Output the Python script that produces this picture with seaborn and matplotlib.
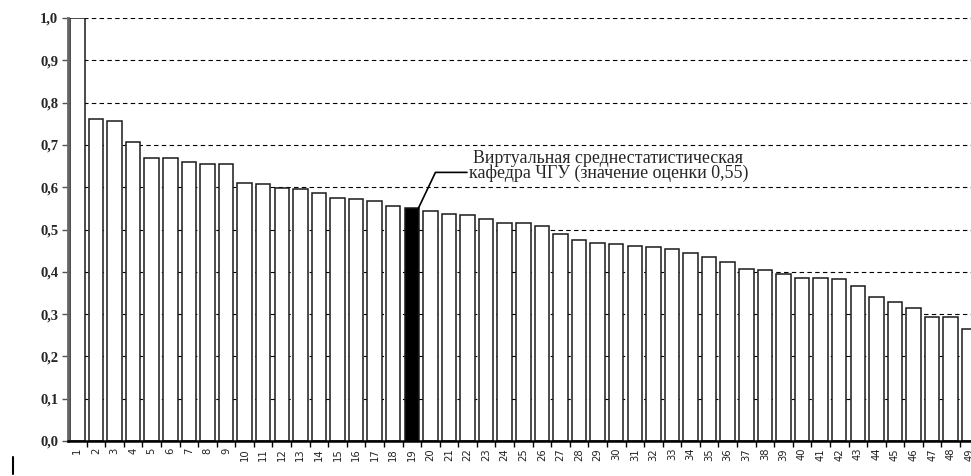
import numpy as np
import pandas as pd
import matplotlib
matplotlib.use("Agg")
import matplotlib.pyplot as plt
from matplotlib.lines import Line2D
import seaborn as sns

# Data
departments = [str(i) for i in range(1, 50)]
scores = [1.000, 0.761, 0.756, 0.708, 0.668, 0.668, 0.660, 0.656, 0.654, 0.610,
          0.608, 0.599, 0.595, 0.587, 0.575, 0.571, 0.567, 0.555, 0.550, 0.543,
          0.537, 0.535, 0.524, 0.515, 0.515, 0.508, 0.489, 0.475, 0.469, 0.466,
          0.461, 0.459, 0.453, 0.445, 0.434, 0.422, 0.407, 0.404, 0.395, 0.386,
          0.386, 0.384, 0.366, 0.340, 0.329, 0.314, 0.293, 0.293, 0.265]
highlight = "19"
yticks = [0.0, 0.1, 0.2, 0.3, 0.4, 0.5, 0.6, 0.7, 0.8, 0.9, 1.0]
ytick_labels = ["0,0", "0,1", "0,2", "0,3", "0,4", "0,5",
                "0,6", "0,7", "0,8", "0,9", "1,0"]
note = "Виртуальная среднестатистическая\nкафедра ЧГУ (значение оценки 0,55)"

df = pd.DataFrame({"dept": departments, "score": scores})
colors = {d: ("black" if d == highlight else "white") for d in departments}

sns.set_theme(style="white")
plt.rcParams["font.family"] = ["Liberation Serif", "DejaVu Serif"]

fig = plt.figure(figsize=(9.71, 4.76), dpi=100)
# axes run past the right edge, like the cropped original
ax = fig.add_axes([0.0701, 0.0735, 0.9377, 0.8887])

sns.barplot(data=df, x="dept", y="score", hue="dept", palette=colors,
            legend=False, width=0.78, saturation=1, edgecolor="#1a1a1a",
            linewidth=1.1, ax=ax, zorder=2)

ax.set_xlim(-0.5, len(departments) - 0.5)
ax.set_ylim(0, 1.0)
ax.set_xlabel("")
ax.set_ylabel("")

# dashed horizontal grid behind the bars
ax.set_axisbelow(True)
ax.yaxis.grid(True, color="black", linestyle=(0, (4, 3)), linewidth=0.8)
ax.xaxis.grid(False)

ax.set_yticks(yticks)
ax.set_yticklabels(ytick_labels, fontsize=10.5, fontweight="bold")
ax.tick_params(axis="y", direction="out", length=4, width=1, color="#555",
               left=True, pad=3)

# labels under bars, tick marks between bars
ax.set_xticks(np.arange(len(departments)))
ax.set_xticklabels(departments, rotation=90, fontsize=7.2,
                   family="DejaVu Sans", color="#222")
ax.set_xticks(np.arange(len(departments) - 1) + 0.5, minor=True)
ax.tick_params(axis="x", which="major", length=0, pad=5)
ax.tick_params(axis="x", which="minor", direction="out", length=4,
               width=1, color="black", bottom=True)

for side in ["top", "right"]:
    ax.spines[side].set_visible(False)
ax.spines["left"].set_color("#666")
ax.spines["left"].set_linewidth(2)
ax.spines["bottom"].set_color("black")
ax.spines["bottom"].set_linewidth(1.8)

# leader line from the highlighted bar to the note
hi = departments.index(highlight)
hv = scores[hi]
lx = [hi + 0.35, hi + 1.27, hi + 2.97]
ly = [hv, hv + 0.085, hv + 0.085]
ax.plot(lx, ly, color="black", linewidth=1.2, zorder=4, clip_on=False)
ax.text(hi + 3.05, hv + 0.10, note, ha="left", va="center",
        multialignment="center", fontsize=12.9, linespacing=0.87,
        transform=ax.transData, zorder=5)

# stray cursor mark at lower left of the original
fig.add_artist(Line2D([13 / 971, 13 / 971], [1 - 457 / 476, 1 - 474 / 476],
                      transform=fig.transFigure, color="black", linewidth=1.5))

fig.savefig("out.png", dpi=100)
